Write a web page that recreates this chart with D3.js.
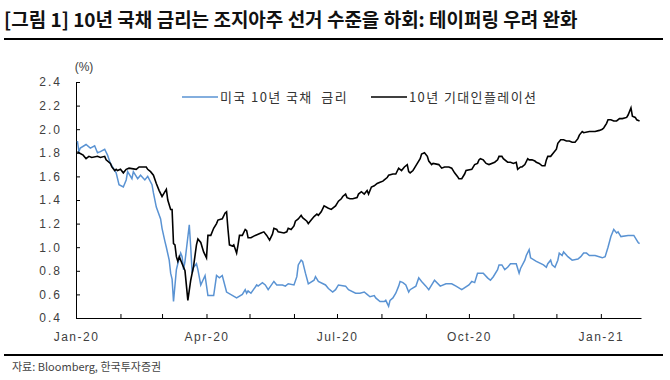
<!DOCTYPE html>
<html>
<head>
<meta charset="utf-8">
<script src="https://cdn.jsdelivr.net/npm/d3@7"></script>
<style>
  body { margin: 0; background: #fff; }
  svg { display: block; }
  .tick line { stroke: #000; }
  .domain { stroke: #000; }
</style>
</head>
<body>
<div id="chart"></div>
<script>
// 미국 10년 국채 금리 (%)
var usRate = [
  ["2020-01-02",1.90],["2020-01-03",1.81],["2020-01-04",1.84],["2020-01-08",1.87],["2020-01-11",1.84],
  ["2020-01-14",1.86],["2020-01-16",1.80],["2020-01-18",1.81],["2020-01-21",1.83],["2020-01-23",1.78],
  ["2020-01-25",1.71],["2020-01-27",1.67],["2020-01-29",1.63],["2020-01-31",1.53],["2020-02-03",1.51],
  ["2020-02-05",1.57],["2020-02-06",1.64],["2020-02-09",1.58],["2020-02-10",1.64],["2020-02-13",1.58],
  ["2020-02-15",1.61],["2020-02-18",1.57],["2020-02-20",1.60],["2020-02-23",1.53],["2020-02-24",1.46],
  ["2020-02-26",1.34],["2020-02-29",1.24],["2020-03-01",1.16],["2020-03-03",1.05],["2020-03-04",1.00],
  ["2020-03-06",0.89],["2020-03-07",0.78],["2020-03-08",0.73],["2020-03-09",0.54],["2020-03-11",0.81],
  ["2020-03-12",0.86],["2020-03-14",0.95],["2020-03-15",0.92],["2020-03-16",0.81],["2020-03-17",0.88],
  ["2020-03-20",1.19],["2020-03-21",1.00],["2020-03-22",0.78],["2020-03-23",0.83],["2020-03-25",0.86],
  ["2020-03-26",0.81],["2020-03-28",0.68],["2020-03-31",0.76],["2020-04-02",0.59],["2020-04-06",0.59],
  ["2020-04-08",0.76],["2020-04-10",0.74],["2020-04-12",0.76],["2020-04-15",0.62],["2020-04-22",0.57],
  ["2020-04-26",0.60],["2020-04-28",0.64],["2020-04-29",0.61],["2020-04-30",0.63],["2020-05-02",0.61],
  ["2020-05-06",0.68],["2020-05-07",0.67],["2020-05-10",0.70],["2020-05-12",0.68],["2020-05-14",0.64],
  ["2020-05-18",0.71],["2020-05-20",0.68],["2020-05-24",0.68],["2020-05-26",0.67],["2020-05-28",0.69],
  ["2020-06-01",0.68],["2020-06-03",0.75],["2020-06-04",0.85],["2020-06-06",0.89],["2020-06-07",0.88],
  ["2020-06-09",0.78],["2020-06-11",0.69],["2020-06-15",0.72],["2020-06-16",0.75],["2020-06-18",0.71],
  ["2020-06-23",0.68],["2020-06-25",0.65],["2020-06-28",0.62],["2020-06-30",0.64],["2020-07-02",0.68],
  ["2020-07-07",0.67],["2020-07-09",0.64],["2020-07-14",0.61],["2020-07-17",0.61],["2020-07-20",0.62],
  ["2020-07-22",0.60],["2020-07-24",0.58],["2020-07-27",0.59],["2020-07-28",0.57],["2020-07-31",0.54],
  ["2020-08-03",0.54],["2020-08-04",0.55],["2020-08-06",0.50],["2020-08-07",0.55],["2020-08-09",0.57],
  ["2020-08-11",0.61],["2020-08-13",0.67],["2020-08-14",0.71],["2020-08-16",0.70],["2020-08-18",0.68],
  ["2020-08-20",0.62],["2020-08-21",0.64],["2020-08-25",0.67],["2020-08-27",0.74],["2020-08-29",0.71],
  ["2020-09-01",0.67],["2020-09-03",0.64],["2020-09-06",0.70],["2020-09-07",0.72],["2020-09-11",0.67],
  ["2020-09-15",0.69],["2020-09-19",0.69],["2020-09-22",0.67],["2020-09-26",0.64],["2020-10-01",0.68],
  ["2020-10-03",0.71],["2020-10-05",0.70],["2020-10-07",0.78],["2020-10-11",0.78],["2020-10-14",0.74],
  ["2020-10-16",0.72],["2020-10-18",0.75],["2020-10-21",0.81],["2020-10-22",0.85],["2020-10-24",0.85],
  ["2020-10-26",0.81],["2020-10-28",0.83],["2020-10-30",0.86],["2020-11-02",0.86],["2020-11-03",0.86],
  ["2020-11-05",0.78],["2020-11-06",0.82],["2020-11-09",0.89],["2020-11-10",0.93],["2020-11-12",0.98],
  ["2020-11-13",0.91],["2020-11-17",0.88],["2020-11-22",0.85],["2020-11-24",0.83],["2020-11-25",0.86],
  ["2020-11-27",0.89],["2020-11-28",0.85],["2020-11-30",0.83],["2020-12-02",0.89],["2020-12-03",0.95],
  ["2020-12-05",0.93],["2020-12-06",0.96],["2020-12-09",0.92],["2020-12-12",0.89],["2020-12-16",0.90],
  ["2020-12-18",0.92],["2020-12-20",0.95],["2020-12-22",0.95],["2020-12-24",0.93],["2020-12-28",0.93],
  ["2021-01-02",0.91],["2021-01-04",0.92],["2021-01-06",1.00],["2021-01-08",1.09],["2021-01-10",1.15],
  ["2021-01-12",1.12],["2021-01-13",1.13],["2021-01-15",1.09],["2021-01-20",1.10],["2021-01-24",1.10],
  ["2021-01-26",1.06],["2021-01-27",1.04],["2021-01-28",1.03]
];

// 10년 기대인플레이션 (%)
var breakeven = [
  ["2020-01-02",1.81],["2020-01-03",1.80],["2020-01-06",1.78],["2020-01-08",1.75],["2020-01-10",1.77],
  ["2020-01-12",1.76],["2020-01-16",1.77],["2020-01-18",1.76],["2020-01-21",1.77],["2020-01-22",1.74],
  ["2020-01-25",1.71],["2020-01-26",1.68],["2020-01-28",1.65],["2020-01-29",1.66],["2020-01-30",1.65],
  ["2020-02-01",1.66],["2020-02-03",1.63],["2020-02-05",1.66],["2020-02-07",1.67],["2020-02-12",1.66],
  ["2020-02-14",1.68],["2020-02-16",1.68],["2020-02-19",1.68],["2020-02-20",1.66],["2020-02-22",1.64],
  ["2020-02-24",1.61],["2020-02-26",1.54],["2020-02-28",1.48],["2020-03-01",1.43],["2020-03-02",1.45],
  ["2020-03-04",1.49],["2020-03-05",1.40],["2020-03-07",1.32],["2020-03-08",1.32],["2020-03-09",1.03],
  ["2020-03-10",1.02],["2020-03-11",0.92],["2020-03-12",0.88],["2020-03-13",0.92],["2020-03-16",0.83],
  ["2020-03-17",0.80],["2020-03-19",0.55],["2020-03-21",0.72],["2020-03-22",0.78],["2020-03-23",0.84],
  ["2020-03-25",1.02],["2020-03-26",1.07],["2020-03-28",1.04],["2020-03-30",0.96],["2020-04-01",0.91],
  ["2020-04-02",1.10],["2020-04-04",1.10],["2020-04-06",1.16],["2020-04-08",1.20],["2020-04-09",1.23],
  ["2020-04-12",1.24],["2020-04-14",1.29],["2020-04-15",1.30],["2020-04-16",1.15],["2020-04-17",1.02],
  ["2020-04-19",1.01],["2020-04-20",1.02],["2020-04-22",0.95],["2020-04-23",1.02],["2020-04-24",1.10],
  ["2020-04-26",1.10],["2020-04-28",1.15],["2020-04-29",1.14],["2020-04-30",1.08],["2020-05-02",1.08],
  ["2020-05-05",1.10],["2020-05-09",1.12],["2020-05-11",1.13],["2020-05-13",1.10],["2020-05-15",1.06],
  ["2020-05-17",1.11],["2020-05-18",1.16],["2020-05-20",1.15],["2020-05-21",1.13],["2020-05-25",1.12],
  ["2020-05-27",1.13],["2020-05-28",1.16],["2020-05-30",1.15],["2020-06-01",1.18],["2020-06-02",1.22],
  ["2020-06-04",1.24],["2020-06-06",1.27],["2020-06-07",1.25],["2020-06-10",1.22],["2020-06-11",1.20],
  ["2020-06-13",1.23],["2020-06-15",1.26],["2020-06-17",1.28],["2020-06-18",1.27],["2020-06-20",1.30],
  ["2020-06-22",1.35],["2020-06-25",1.33],["2020-06-27",1.32],["2020-06-30",1.35],["2020-07-02",1.39],
  ["2020-07-04",1.41],["2020-07-05",1.43],["2020-07-07",1.45],["2020-07-08",1.42],["2020-07-10",1.41],
  ["2020-07-12",1.41],["2020-07-15",1.42],["2020-07-16",1.45],["2020-07-18",1.47],["2020-07-20",1.45],
  ["2020-07-22",1.48],["2020-07-23",1.45],["2020-07-25",1.51],["2020-07-27",1.52],["2020-07-29",1.54],
  ["2020-07-31",1.55],["2020-08-02",1.56],["2020-08-03",1.57],["2020-08-05",1.59],["2020-08-06",1.61],
  ["2020-08-09",1.62],["2020-08-11",1.62],["2020-08-13",1.67],["2020-08-14",1.66],["2020-08-15",1.65],
  ["2020-08-17",1.68],["2020-08-19",1.70],["2020-08-20",1.64],["2020-08-21",1.63],["2020-08-23",1.65],
  ["2020-08-24",1.67],["2020-08-26",1.71],["2020-08-28",1.75],["2020-08-29",1.79],["2020-08-31",1.80],
  ["2020-09-02",1.77],["2020-09-03",1.73],["2020-09-05",1.70],["2020-09-06",1.71],["2020-09-10",1.70],
  ["2020-09-12",1.67],["2020-09-14",1.68],["2020-09-17",1.68],["2020-09-19",1.67],["2020-09-21",1.63],
  ["2020-09-23",1.60],["2020-09-24",1.58],["2020-09-26",1.58],["2020-09-28",1.62],["2020-09-29",1.65],
  ["2020-10-03",1.66],["2020-10-05",1.70],["2020-10-07",1.71],["2020-10-08",1.74],["2020-10-09",1.75],
  ["2020-10-11",1.74],["2020-10-13",1.71],["2020-10-15",1.70],["2020-10-19",1.72],["2020-10-21",1.74],
  ["2020-10-22",1.77],["2020-10-24",1.77],["2020-10-25",1.75],["2020-10-28",1.72],["2020-10-30",1.72],
  ["2020-11-01",1.71],["2020-11-03",1.72],["2020-11-04",1.66],["2020-11-06",1.68],["2020-11-07",1.68],
  ["2020-11-09",1.70],["2020-11-11",1.75],["2020-11-12",1.74],["2020-11-14",1.74],["2020-11-16",1.73],
  ["2020-11-17",1.72],["2020-11-19",1.71],["2020-11-21",1.69],["2020-11-23",1.69],["2020-11-24",1.74],
  ["2020-11-25",1.77],["2020-11-27",1.77],["2020-11-29",1.80],["2020-12-01",1.83],["2020-12-02",1.88],
  ["2020-12-04",1.91],["2020-12-06",1.91],["2020-12-08",1.90],["2020-12-10",1.90],["2020-12-12",1.89],
  ["2020-12-14",1.89],["2020-12-16",1.92],["2020-12-17",1.95],["2020-12-19",1.98],["2020-12-20",1.97],
  ["2020-12-24",1.98],["2020-12-28",1.98],["2020-12-31",1.99],["2021-01-02",2.00],["2021-01-03",2.01],
  ["2021-01-05",2.05],["2021-01-06",2.08],["2021-01-08",2.08],["2021-01-10",2.07],["2021-01-12",2.07],
  ["2021-01-14",2.09],["2021-01-16",2.09],["2021-01-19",2.10],["2021-01-20",2.12],["2021-01-22",2.18],
  ["2021-01-23",2.11],["2021-01-25",2.10],["2021-01-26",2.08],["2021-01-28",2.07]
];

var seriesNames = ["미국 10년 국채  금리", "10년 기대인플레이션"];
var yTicks = [0.4, 0.6, 0.8, 1.0, 1.2, 1.4, 1.6, 1.8, 2.0, 2.2, 2.4];
var xStart = "2020-01-01", xEnd = "2021-01-29";

var title = "[그림 1] 10년 국채 금리는 조지아주 선거 수준을 하회: 테이퍼링 우려 완화";
var source = "자료: Bloomberg, 한국투자증권";

var parse = d3.timeParse("%Y-%m-%d");
var toPoints = function(arr) {
	return arr.map(function(d) { return { date: parse(d[0]), value: d[1] }; });
};

var svg = d3.select('#chart').append('svg').attr('width', 670).attr('height', 380);

var x = d3.scaleTime().domain([parse(xStart), parse(xEnd)]).range([76, 641]);
var y = d3.scaleLinear().domain([0.4, 2.4]).range([318, 82]);

// title + rules
svg.append('text')
	.attr('x', 4).attr('y', 27)
	.style('font-family', '"Noto Sans CJK KR", sans-serif')
	.style('font-size', '19px')
	.style('font-weight', 'bold')
	.style('fill', '#111')
	.text(title);

svg.append('line').attr('x1', 4).attr('x2', 663).attr('y1', 39).attr('y2', 39)
	.style('stroke', '#000').style('stroke-width', 2);
svg.append('line').attr('x1', 4).attr('x2', 663).attr('y1', 355).attr('y2', 355)
	.style('stroke', '#000').style('stroke-width', 2);

svg.append('text')
	.attr('x', 12).attr('y', 371)
	.style('font-family', '"Noto Sans CJK KR", sans-serif')
	.style('font-size', '11px')
	.style('fill', '#444')
	.text(source);

// axes
var yAxis = svg.append('g')
	.attr('transform', 'translate(76,0)')
	.call(d3.axisLeft(y).tickValues(yTicks).tickFormat(d3.format('.1f'))
		.tickSizeInner(-4).tickSizeOuter(0).tickPadding(14));
yAxis.selectAll('text')
	.style('font-family', '"Liberation Sans", Arial, sans-serif')
	.style('font-size', '12px')
	.style('letter-spacing', '2px')
	.style('fill', '#404040');

svg.append('g')
	.attr('transform', 'translate(0,318)')
	.call(d3.axisBottom(x).ticks(d3.timeMonth.every(1)).tickFormat('')
		.tickSizeInner(-4).tickSizeOuter(0));

var xLabels = svg.append('g')
	.attr('transform', 'translate(0,318)')
	.call(d3.axisBottom(x).ticks(d3.timeMonth.every(3)).tickFormat(d3.timeFormat('%b-%y'))
		.tickSize(0).tickPadding(14));
xLabels.select('.domain').remove();
xLabels.selectAll('text')
	.style('font-family', '"Liberation Sans", Arial, sans-serif')
	.style('font-size', '12px')
	.style('letter-spacing', '1.5px')
	.style('fill', '#404040');

svg.append('text')
	.attr('x', 84).attr('y', 71)
	.attr('text-anchor', 'middle')
	.style('font-family', '"Liberation Sans", Arial, sans-serif')
	.style('font-size', '12px')
	.style('fill', '#404040')
	.text('(%)');

// lines
var line = d3.line()
	.x(function(d) { return x(d.date); })
	.y(function(d) { return y(d.value); });

var colors = ['#5a93d3', '#000'];

svg.append('path')
	.datum(toPoints(usRate))
	.attr('d', line)
	.style('fill', 'none')
	.style('stroke', colors[0])
	.style('stroke-width', 1.5);

svg.append('path')
	.datum(toPoints(breakeven))
	.attr('d', line)
	.style('fill', 'none')
	.style('stroke', colors[1])
	.style('stroke-width', 1.6);

// legend
var legendX = [182, 371];
seriesNames.forEach(function(name, i) {
	svg.append('line')
		.attr('x1', legendX[i]).attr('x2', legendX[i] + 36)
		.attr('y1', 97).attr('y2', 97)
		.style('stroke', colors[i]).style('stroke-width', 1.5);
	svg.append('text')
		.attr('x', legendX[i] + 38).attr('y', 102)
		.style('font-family', '"Noto Sans CJK KR", sans-serif')
		.style('font-size', '13px')
		.style('letter-spacing', '1.4px')
		.style('white-space', 'pre')
		.style('fill', '#333')
		.text(name);
});
</script>
</body>
</html>
